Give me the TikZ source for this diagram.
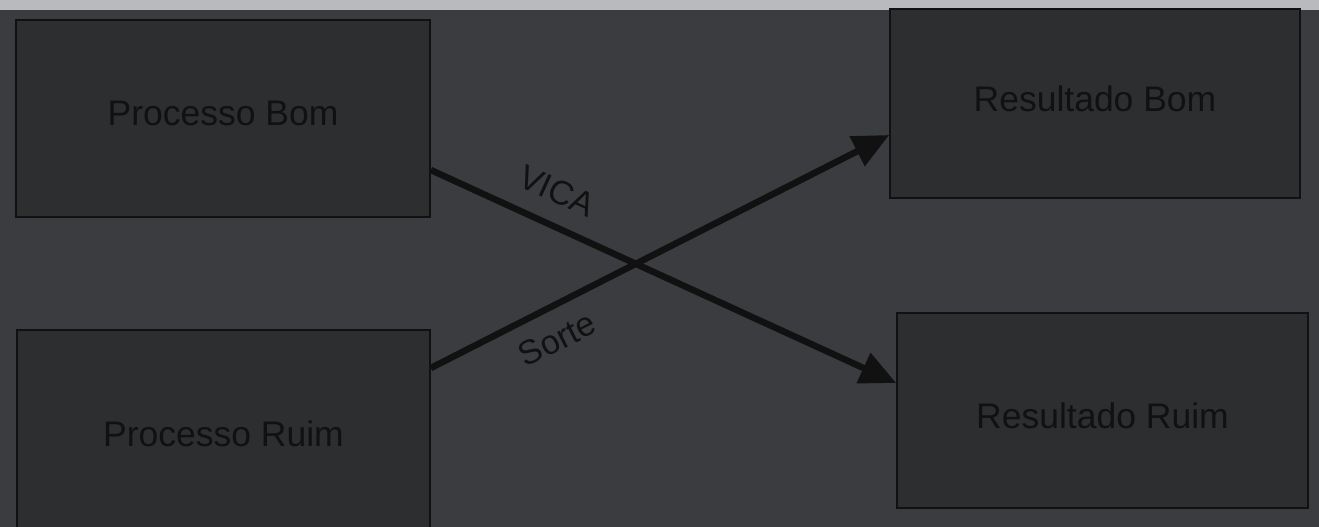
\documentclass[tikz,border=0pt]{standalone}
\usepackage{fontspec}
\setmainfont{Liberation Sans}
\usetikzlibrary{arrows.meta}
\definecolor{bgcol}{HTML}{3B3C40}
\definecolor{stripcol}{HTML}{B8BABD}
\definecolor{boxcol}{HTML}{2D2E30}
\definecolor{inkcol}{HTML}{111112}
\newcommand{\boxtext}[2]{\raisebox{#1}[0pt][0pt]{#2}}
\tikzset{
  boxnode/.style={draw=inkcol, line width=1.6pt, fill=boxcol, inner sep=0pt,
    text=inkcol, font=\fontsize{35.5}{40}\selectfont},
  flowarrow/.style={draw=inkcol, line width=6.5pt,
    -{Triangle[length=36pt,width=32pt]}},
  edgelabel/.style={text=inkcol, font=\fontsize{34}{38}\selectfont, inner sep=0pt}
}
\begin{document}
\begin{tikzpicture}[x=1pt,y=-1pt]
\useasboundingbox (0,0) rectangle (1319,527);
\fill[bgcol] (0,0) rectangle (1319,527);
\fill[stripcol] (0,0) rectangle (1319,10);
\node[boxnode, minimum width=414pt, minimum height=197pt] (pb) at (223,118.5) {\boxtext{-7.2pt}{Processo Bom}};
\node[boxnode, minimum width=413pt, minimum height=200pt] (pr) at (223.5,430) {\boxtext{-16.7pt}{Processo Ruim}};
\node[boxnode, minimum width=410pt, minimum height=189pt] (rb) at (1095,103.5) {\boxtext{-8.2pt}{Resultado Bom}};
\node[boxnode, minimum width=411pt, minimum height=195pt] (rr) at (1102.5,410.5) {\boxtext{-17.5pt}{Resultado Ruim}};
\draw[flowarrow] ([yshift=-51.5pt]pb.east) -- ([yshift=27.5pt]rr.west);
\draw[flowarrow] ([yshift=62pt]pr.east) -- ([yshift=-31.5pt]rb.west);
\node[edgelabel, rotate=-24.5] (vica) at (557,191) {VICA};
\node[edgelabel, rotate=26.5] (sorte) at (557,339) {Sorte};
\end{tikzpicture}
\end{document}
